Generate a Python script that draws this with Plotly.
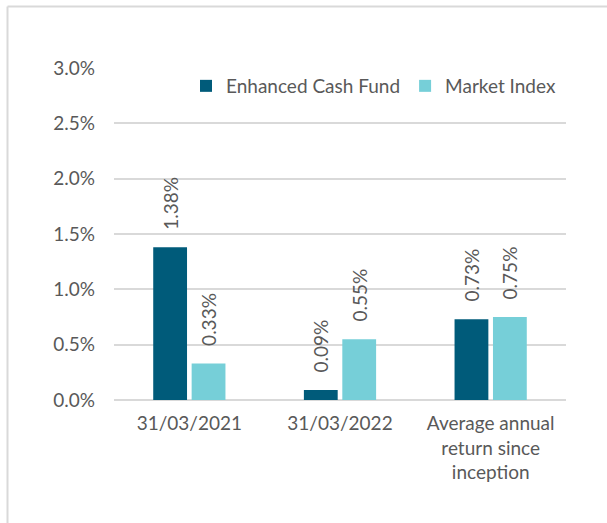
import plotly.graph_objects as go

categories = ["31/03/2021", "31/03/2022", "Average annual<br>return since<br>inception"]
fund_values = [1.38, 0.09, 0.73]
index_values = [0.33, 0.55, 0.75]
series_names = ["Enhanced Cash Fund", "Market Index"]
tick_vals = [0, 0.5, 1.0, 1.5, 2.0, 2.5, 3.0]
tick_text = ["0.0%", "0.5%", "1.0%", "1.5%", "2.0%", "2.5%", "3.0%"]

DARK = "#005B7A"
LIGHT = "#76CFD8"
TXT = "#595959"
FONT = "Lato"
FS = 19
PAD = "\u00a0\u00a0\u00a0"

fig = go.Figure()
for name, vals, col in [(series_names[0], fund_values, DARK), (series_names[1], index_values, LIGHT)]:
    fig.add_trace(go.Bar(
        x=categories, y=vals, name=name, marker=dict(color=col, line=dict(width=0)),
        text=[PAD + f"{v:.2f}%" for v in vals], textposition="outside", textangle=-90,
        constraintext="none",
        textfont=dict(family=FONT, size=FS, color=TXT), cliponaxis=False,
    ))

W, H = 607, 523
l, r, t, b = 114, 41, 68, 123
pw, ph = W - l - r, H - t - b

def px(xp):
    return (xp - l) / pw

def py(yp):
    return (H - b - yp) / ph

fig.update_layout(
    width=W, height=H, margin=dict(l=l, r=r, t=t, b=b),
    paper_bgcolor="white", plot_bgcolor="white",
    barmode="group", bargap=0.49, bargroupgap=0.12,
    font=dict(family=FONT, size=FS, color=TXT),
    showlegend=True,
    legend=dict(orientation="h", x=px(186), xanchor="left", y=py(86), yanchor="middle",
                font=dict(family=FONT, size=FS, color=TXT), bgcolor="rgba(0,0,0,0)",
                itemwidth=30, traceorder="normal"),
    xaxis=dict(showgrid=False, showline=False, ticks="", ticklabelstandoff=10,
               tickfont=dict(family=FONT, size=FS, color=TXT)),
    yaxis=dict(range=[0, 3], tickvals=tick_vals, ticktext=tick_text, showgrid=True,
               gridcolor="#D9D9D9", gridwidth=1.5, zeroline=True, zerolinecolor="#D9D9D9", zerolinewidth=1.5,
               showline=False, ticks="", ticklen=0, ticklabelstandoff=18,
               tickfont=dict(family=FONT, size=FS, color=TXT)),
    shapes=[
        dict(type="line", xref="paper", yref="paper", x0=px(7.5), x1=px(607), y0=py(6.5), y1=py(6.5),
             line=dict(color="#D9D9D9", width=2)),
        dict(type="line", xref="paper", yref="paper", x0=px(7.5), x1=px(7.5), y0=py(6.5), y1=py(523),
             line=dict(color="#D9D9D9", width=2)),
    ],
)

fig.write_html("out.html", config={"displayModeBar": False},
               post_script="document.body.style.margin='0px';")
